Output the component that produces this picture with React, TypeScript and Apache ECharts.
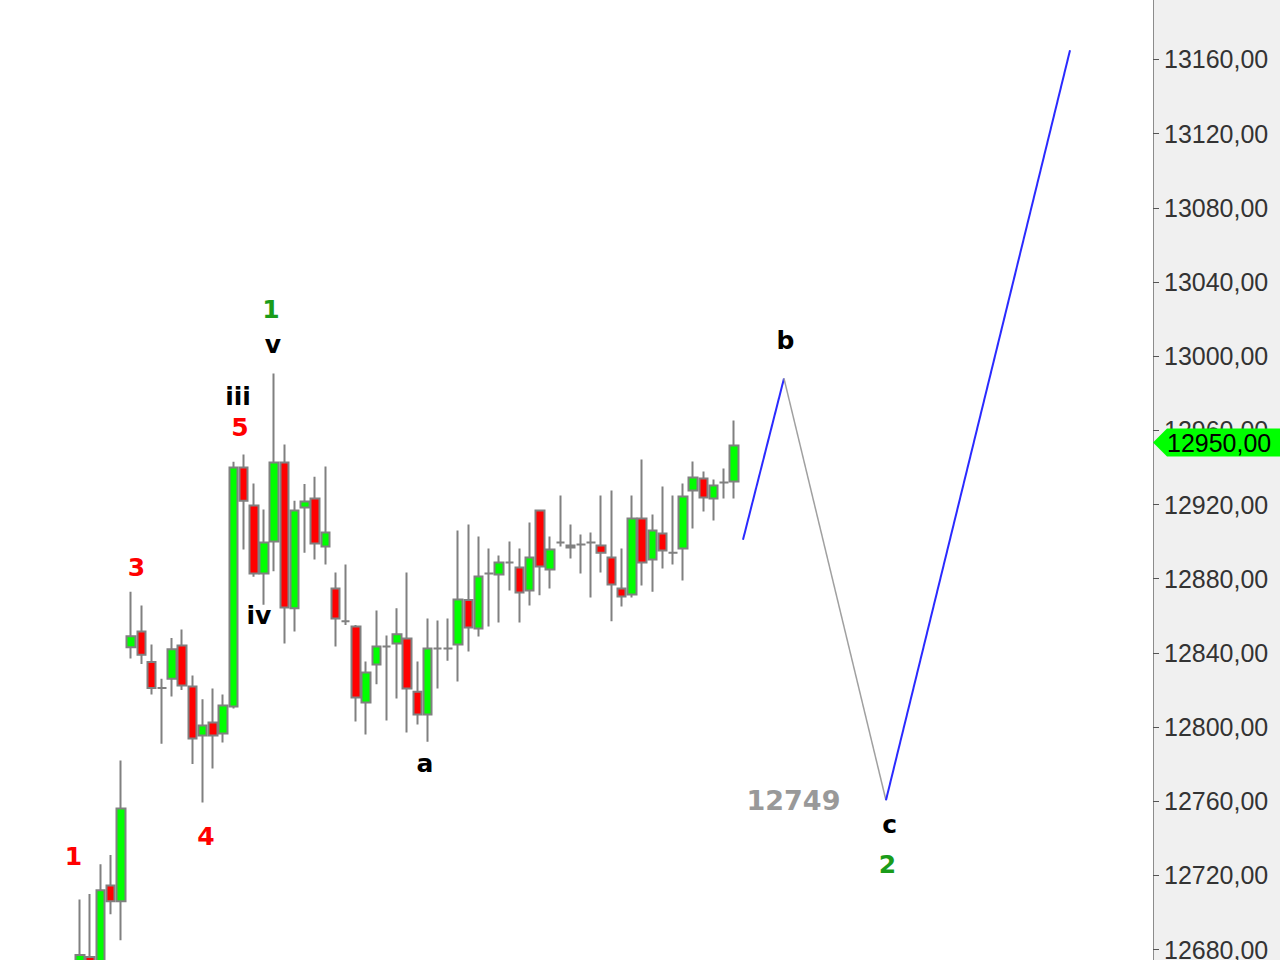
import React, { useEffect, useRef } from 'react';
import * as echarts from 'echarts';

// 105 bar slots on the time axis (65 real bars + room for the projection)
const SLOT_COUNT = 105;
const slots = Array.from({ length: SLOT_COUNT }, (_, i) => String(i + 1));

// candle values (one entry per bar)
const opens = [
  12650, 12676, 12660, 12714.5, 12706, 12843, 12851.5, 12835, 12821, 12826,
  12844, 12821.8, 12795.4, 12802.4, 12796.5, 12811, 12940, 12919.5, 12882.8, 12900,
  12942.6, 12864, 12918.4, 12923.2, 12897.3, 12874.7, 12857, 12854.2, 12813.2, 12833.7,
  12843.4, 12845, 12847.7, 12819, 12806.7, 12842.3, 12842.3, 12844.5, 12868.5, 12853.1,
  12882.8, 12882.2, 12888.7, 12886, 12873.6, 12916.8, 12884.9, 12899.5, 12897.9, 12898.4,
  12899.5, 12897.9, 12891.4, 12874.7, 12871.4, 12912.4, 12890.3, 12904.3, 12894, 12896.3,
  12927.5, 12934, 12923.2, 12931.9, 12932.4,
];
const closes = [
  12677, 12660, 12712, 12706, 12756, 12849, 12839, 12821, 12821, 12842,
  12822.4, 12793.8, 12800.8, 12795.4, 12811.6, 12940, 12922, 12882.8, 12899.5, 12942.6,
  12864.4, 12916.8, 12921.6, 12899, 12904.9, 12858.5, 12857, 12815.9, 12829.4, 12843.4,
  12843.4, 12850, 12820.8, 12806.7, 12842.3, 12842.3, 12842.3, 12868.8, 12853.7, 12881.2,
  12882.8, 12888.7, 12888.7, 12872.5, 12891.4, 12886.6, 12895.7, 12899.5, 12896.8, 12898.4,
  12899.5, 12894, 12876.8, 12870.4, 12912.4, 12888.7, 12906, 12895.2, 12894, 12924.3,
  12934.6, 12923.8, 12930.2, 12931.9, 12951.8,
];
const lows = [
  12640, 12650, 12650, 12699, 12685, 12837, 12834, 12817.5, 12791, 12816.5,
  12820, 12780, 12759.3, 12777.6, 12791.6, 12810, 12895.7, 12881, 12866, 12884,
  12845, 12851.5, 12894, 12890.3, 12887.6, 12843.4, 12855, 12803, 12796, 12823,
  12803.5, 12815.4, 12797, 12801.3, 12792, 12820.8, 12835.8, 12824.5, 12840.7, 12848.8,
  12854.2, 12856.4, 12873.6, 12856.4, 12865.5, 12871, 12874.7, 12897.3, 12890.9, 12882.8,
  12869.8, 12883.3, 12857, 12865, 12869.8, 12876.3, 12873, 12885.5, 12887.6, 12879,
  12907, 12916.2, 12911.4, 12923.2, 12923.2,
];
const highs = [
  12707, 12710, 12726, 12731, 12782, 12873, 12865.5, 12844.5, 12826, 12848,
  12852.6, 12827.8, 12815, 12820.8, 12817.5, 12943, 12947, 12931.3, 12917.3, 12990.6,
  12952.4, 12922, 12931, 12935, 12940.5, 12883.3, 12887.6, 12855, 12835.3, 12862.8,
  12849.3, 12864, 12883.3, 12835.3, 12858.5, 12857.4, 12858.5, 12906, 12909.2, 12902.7,
  12896.3, 12892.5, 12900, 12896.3, 12910.3, 12917, 12902.7, 12924.8, 12909.2, 12903.8,
  12904.9, 12924.8, 12927.5, 12896.3, 12924.8, 12944.3, 12914.6, 12929.7, 12924.8, 12931.3,
  12943.2, 12937.8, 12933.5, 12939.4, 12965.3,
];

// projected path (x = bar slot, y = price)
const projB: number[][] = [[64.87, 12901], [68.88, 12988]];
const projC: number[][] = [[68.88, 12988], [78.86, 12760.5]];
const projUp: number[][] = [[78.86, 12760.5], [96.87, 13165]];

// price axis
const Y_MIN = 12640;
const Y_MAX = 13200;
const Y_STEP = 40;
const LAST_PRICE_LABEL = '12950,00';

// wave labels
const annTexts = ['1', '3', '4', '5', 'iii', 'iv', 'v', '1', 'a', 'b', 'c', '2', '12749'];
const annX = [-0.64, 5.53, 12.33, 15.66, 15.46, 17.51, 18.88, 18.69, 33.76, 69.03, 79.23, 79.01, 69.81];
const annY = [12730.4, 12885.8, 12740.7, 12961.3, 12978, 12859.9, 13006.2, 13025.4, 12780.3, 13008.2, 12747.4, 12725.6, 12760.4];
const RED = '#ff0000';
const BLACK = '#000000';
const GREEN = '#1a9c1a';
const GRAY = '#999999';
const annColors = [RED, RED, RED, RED, BLACK, BLACK, BLACK, GREEN, BLACK, BLACK, BLACK, GREEN, GRAY];
const annSizes = [25, 25, 25, 25, 25, 25, 25, 25, 25, 25, 25, 25, 27];

export default function App() {
  const ref = useRef<HTMLDivElement>(null);

  useEffect(() => {
    const el = ref.current;
    if (!el) return;
    const chart = echarts.init(el, null, { renderer: 'svg' });
    const candleData = opens.map((o, i) => [o, closes[i], lows[i], highs[i]]);

    chart.setOption({
      animation: false,
      backgroundColor: '#ffffff',
      grid: {
        left: 74.9,
        top: -14.7,
        width: 1073.1,
        height: 1038.4,
        show: false,
        containLabel: false,
        outerBoundsMode: 'none',
      },
      xAxis: [
        { type: 'category', data: slots, show: false, boundaryGap: true },
        { type: 'value', min: -0.5, max: SLOT_COUNT - 0.5, show: false },
      ],
      yAxis: {
        type: 'value',
        position: 'right',
        offset: 5,
        min: Y_MIN,
        max: Y_MAX,
        interval: Y_STEP,
        axisLine: { show: true, onZero: false, lineStyle: { color: '#8c8c8c', width: 1 } },
        axisTick: { show: true, length: 6, lineStyle: { color: '#555555', width: 1 } },
        splitLine: { show: false },
        axisLabel: {
          color: '#333333',
          fontSize: 25,
          fontFamily: 'Liberation Sans',
          margin: 11,
          showMinLabel: false,
          showMaxLabel: false,
          formatter: (v: number) => v.toFixed(2).replace('.', ','),
        },
      },
      series: [
        {
          type: 'candlestick',
          xAxisIndex: 0,
          yAxisIndex: 0,
          data: candleData,
          barWidth: 9,
          itemStyle: {
            color: '#00ff00',
            color0: '#ff0000',
            borderColor: '#808080',
            borderColor0: '#808080',
            borderColorDoji: '#808080',
            borderWidth: 2,
          },
        },
        {
          type: 'line',
          xAxisIndex: 1,
          yAxisIndex: 0,
          data: projB,
          symbol: 'none',
          lineStyle: { color: '#2a2aff', width: 2 },
        },
        {
          type: 'line',
          xAxisIndex: 1,
          yAxisIndex: 0,
          data: projC,
          symbol: 'none',
          lineStyle: { color: '#a0a0a0', width: 1.5 },
        },
        {
          type: 'line',
          xAxisIndex: 1,
          yAxisIndex: 0,
          data: projUp,
          symbol: 'none',
          lineStyle: { color: '#2a2aff', width: 2 },
        },
      ],
    });

    const annGraphics = annTexts.map((t, i) => {
      const p = chart.convertToPixel({ seriesIndex: 1 }, [annX[i], annY[i]]) as number[];
      return {
        type: 'text',
        x: p[0],
        y: p[1],
        z: 30,
        style: {
          text: t,
          fill: annColors[i],
          fontSize: annSizes[i],
          fontWeight: 'bold',
          fontFamily: 'DejaVu Sans',
          align: 'center',
          verticalAlign: 'middle',
        },
      };
    });

    chart.setOption({
      graphic: [
        {
          type: 'rect',
          z: -10,
          shape: { x: 1153, y: 0, width: 127, height: 960 },
          style: { fill: '#f0f0f0' },
        },
        {
          type: 'polygon',
          z: 20,
          shape: {
            points: [
              [1153, 442.5],
              [1167, 428.5],
              [1280, 428.5],
              [1280, 456.5],
              [1167, 456.5],
            ],
          },
          style: { fill: '#00ff00' },
        },
        {
          type: 'text',
          z: 21,
          x: 1167,
          y: 443,
          style: {
            text: LAST_PRICE_LABEL,
            fill: '#000000',
            fontSize: 25,
            fontFamily: 'Liberation Sans',
            align: 'left',
            verticalAlign: 'middle',
          },
        },
        ...annGraphics,
      ],
    });

    return () => {
      chart.dispose();
    };
  }, []);

  return (
    <div
      ref={ref}
      style={{ position: 'absolute', left: 0, top: 0, width: 1280, height: 960 }}
    />
  );
}
